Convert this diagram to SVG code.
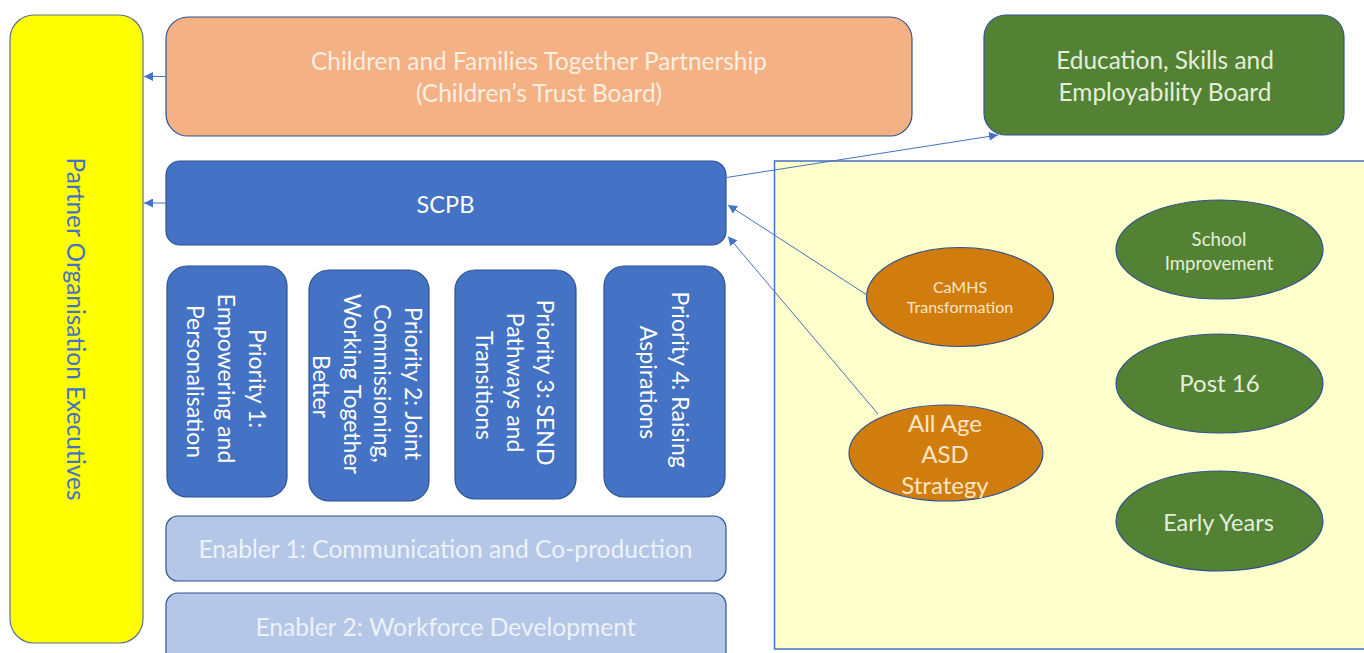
<svg xmlns="http://www.w3.org/2000/svg" width="1364" height="653" viewBox="0 0 1364 653">
  <defs>
    <marker id="arrow" viewBox="0 0 10 10" refX="10" refY="5" markerWidth="9" markerHeight="9" markerUnits="userSpaceOnUse" orient="auto">
      <path d="M0,0 L10,5 L0,10 Z" fill="#4472c4"/>
    </marker>
    <style>
      text { font-family: Lato, "Liberation Sans", sans-serif; text-anchor: middle; }
      .box { stroke: #2f528f; stroke-width: 1.2; }
      .yellow { fill: #ffff00; stroke: #5b7290; }
      .orange { fill: #f4b183; }
      .green { fill: #548235; }
      .blue { fill: #4472c4; }
      .pale { fill: #b4c7e7; }
      .panel { fill: #ffffcc; stroke: #4472c4; stroke-width: 1.5; }
      .amber { fill: #d17d0e; stroke: #2f528f; stroke-width: 1.2; }
      .leaf { fill: #548235; stroke: #2f528f; stroke-width: 1.2; }
      .t-yellow { fill: #4472c4; font-size: 24.4px; }
      .t-orange { fill: #fdeee2; font-size: 24.4px; }
      .t-green { fill: #e2efda; font-size: 24.4px; }
      .t-white { fill: #ffffff; font-size: 23px; }
      .t-pale { fill: #edf2fa; font-size: 24.6px; }
      .t-amber { fill: #fbe5c6; }
      .link { fill: none; stroke: #4472c4; stroke-width: 1; marker-end: url(#arrow); }
    </style>
  </defs>

  <!-- background -->
  <rect x="0" y="0" width="1364" height="653" fill="#ffffff"/>

  <!-- right-hand programme panel -->
  <rect id="panel" class="panel" x="774.5" y="161" width="600" height="488"/>

  <g id="partner-executives">
    <rect class="box yellow" x="10" y="15" width="133" height="628" rx="24"/>
    <text class="t-yellow" transform="translate(66.7,329) rotate(90)">Partner Organisation Executives</text>
  </g>

  <g id="cftp">
    <rect class="box orange" x="166" y="17" width="746" height="119" rx="22"/>
    <text class="t-orange" x="539" y="70">Children and Families Together Partnership</text>
    <text class="t-orange" x="539" y="102">(Children’s Trust Board)</text>
  </g>

  <g id="eseb">
    <rect class="box green" x="984" y="15" width="360" height="120" rx="22"/>
    <text class="t-green" x="1165" y="69">Education, Skills and</text>
    <text class="t-green" x="1165" y="101">Employability Board</text>
  </g>

  <g id="scpb">
    <rect class="box blue" x="166" y="161" width="560" height="84" rx="14"/>
    <text class="t-white" x="445.5" y="213" style="font-size:23.5px">SCPB</text>
  </g>

  <g id="priority-1">
    <rect class="box blue" x="167" y="266" width="120" height="231" rx="20"/>
    <text class="t-white" transform="translate(249.3,381.5) rotate(90)">
      <tspan x="0" dy="0">Priority 1:</tspan>
      <tspan x="0" dy="31">Empowering and</tspan>
      <tspan x="0" dy="31">Personalisation</tspan>
    </text>
  </g>

  <g id="priority-2">
    <rect class="box blue" x="309" y="270" width="120" height="231" rx="20"/>
    <text class="t-white" transform="translate(405,386.5) rotate(90)">
      <tspan x="0" dy="0">Priority 2: Joint</tspan>
      <tspan x="0" dy="30.7">Commissioning,</tspan>
      <tspan x="0" dy="30.7">Working Together</tspan>
      <tspan x="0" dy="30.7">Better</tspan>
    </text>
  </g>

  <g id="priority-3">
    <rect class="box blue" x="455" y="270" width="121" height="229" rx="20"/>
    <text class="t-white" transform="translate(537.3,385.5) rotate(90)">
      <tspan x="0" dy="0">Priority 3: SEND</tspan>
      <tspan x="0" dy="30.5">Pathways and</tspan>
      <tspan x="0" dy="30.5">Transitions</tspan>
    </text>
  </g>

  <g id="priority-4">
    <rect class="box blue" x="604" y="266" width="121" height="231" rx="20"/>
    <text class="t-white" transform="translate(671.7,382.5) rotate(90)">
      <tspan x="0" dy="0">Priority 4: Raising</tspan>
      <tspan x="0" dy="31.7">Aspirations</tspan>
    </text>
  </g>

  <g id="enabler-1">
    <rect class="box pale" x="166" y="516" width="560" height="65" rx="12"/>
    <text class="t-pale" x="445.5" y="558">Enabler 1: Communication and Co-production</text>
  </g>

  <g id="enabler-2">
    <rect class="box pale" x="166" y="593" width="560" height="75" rx="12"/>
    <text class="t-pale" x="445.5" y="636">Enabler 2: Workforce Development</text>
  </g>

  <g id="camhs">
    <ellipse class="amber" cx="960" cy="297" rx="93.5" ry="49.5"/>
    <text class="t-amber" x="960" y="292.5" style="font-size:16px">CaMHS</text>
    <text class="t-amber" x="960" y="313" style="font-size:16px">Transformation</text>
  </g>

  <g id="asd-strategy">
    <ellipse class="amber" cx="946" cy="453" rx="97" ry="48"/>
    <text class="t-amber" x="945" y="431.5" style="font-size:24px">All Age</text>
    <text class="t-amber" x="945" y="462.5" style="font-size:24px">ASD</text>
    <text class="t-amber" x="945" y="493.5" style="font-size:24px">Strategy</text>
  </g>

  <g id="school-improvement">
    <ellipse class="leaf" cx="1219.5" cy="249.5" rx="103.5" ry="49.5"/>
    <text class="t-green" x="1219" y="246" style="font-size:18.6px">School</text>
    <text class="t-green" x="1219" y="270" style="font-size:18.6px">Improvement</text>
  </g>

  <g id="post-16">
    <ellipse class="leaf" cx="1219.5" cy="383.5" rx="103.5" ry="49.5"/>
    <text class="t-green" x="1219.5" y="391.5" style="font-size:24px">Post 16</text>
  </g>

  <g id="early-years">
    <ellipse class="leaf" cx="1219.5" cy="521" rx="103.5" ry="50"/>
    <text class="t-green" x="1218.5" y="530.5" style="font-size:23.5px">Early Years</text>
  </g>

  <g id="connectors">
    <line class="link" x1="166" y1="76.5" x2="144" y2="76.5"/>
    <line class="link" x1="166" y1="203" x2="144" y2="203"/>
    <line class="link" x1="726.5" y1="177.5" x2="998" y2="135"/>
    <line class="link" x1="867" y1="295" x2="728" y2="205"/>
    <line class="link" x1="878" y1="414" x2="728" y2="236.5"/>
  </g>
</svg>
